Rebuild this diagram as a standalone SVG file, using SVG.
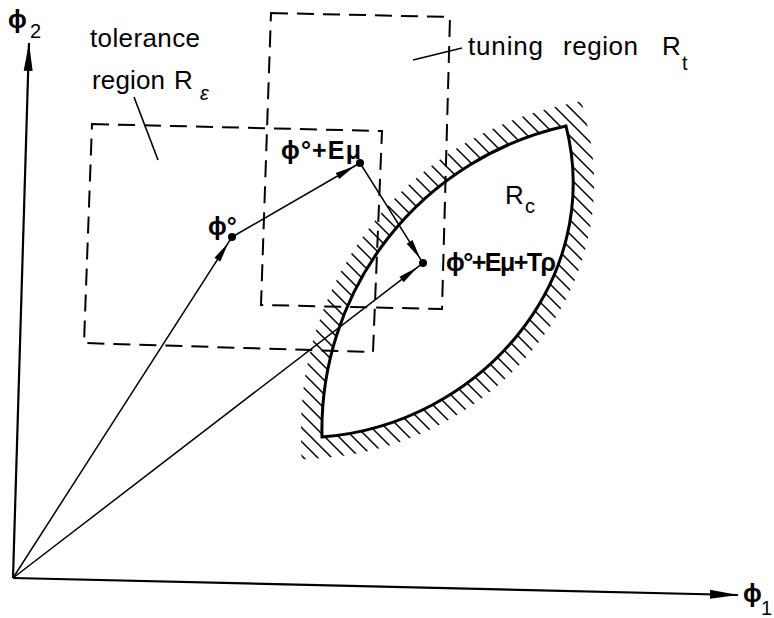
<svg xmlns="http://www.w3.org/2000/svg" width="774" height="618" viewBox="0 0 774 618">
<style>
text{font-family:"Liberation Sans","DejaVu Sans",sans-serif;fill:#000}
.lbl{font-size:26px}
.sym{font-size:25px;font-weight:bold}
.sub{font-size:20px}
.dash{fill:none;stroke:#000;stroke-width:2;stroke-dasharray:17 9}
.vec{fill:none;stroke:#000;stroke-width:1.5;marker-mid:url(#ah)}
.axis{fill:none;stroke:#000;stroke-width:2.2}
.lead{fill:none;stroke:#000;stroke-width:1.6}
.dot{fill:#000}
</style>
<defs>
<marker id="ah" markerUnits="userSpaceOnUse" markerWidth="24" markerHeight="10" viewBox="-22 -5 24 10" refX="0" refY="0" orient="auto"><path d="M0,0 L-20,-3.5 L-20,3.5 Z" fill="#000"/></marker>
<marker id="axh" markerUnits="userSpaceOnUse" markerWidth="34" markerHeight="12" viewBox="-32 -6 34 12" refX="0" refY="0" orient="auto"><path d="M0,0 L-28,-4.5 L-28,4.5 Z" fill="#000"/></marker>
<pattern id="hatch" patternUnits="userSpaceOnUse" width="14" height="14"><path d="M0,0 L14,14 M-2,12 L2,16 M12,-2 L16,2" stroke="#000" stroke-width="1.5"/></pattern>
<path id="lensShape" d="M322,437 A311,311 0 0 1 566,126 C605,280 480,425 322,437 Z"/>
<mask id="band" maskUnits="userSpaceOnUse" x="0" y="0" width="774" height="618">
<use href="#lensShape" fill="#000" stroke="#fff" stroke-width="42" stroke-linejoin="miter" stroke-miterlimit="6"/>
<use href="#lensShape" fill="#000" stroke="none"/>
</mask>
</defs>
<g id="axes">
<path class="axis" d="M13,578 L29,43" marker-end="url(#axh)"/>
<path class="axis" d="M13,578 L738,595" marker-end="url(#axh)"/>
<text class="sym" x="8" y="28">ϕ<tspan class="sub" font-weight="normal" x="30" y="38">2</tspan></text>
<text class="sym" x="743" y="602">ϕ<tspan class="sub" font-weight="normal" x="761" y="615">1</tspan></text>
</g>
<g id="constraint-region">
<rect x="0" y="0" width="774" height="618" fill="url(#hatch)" mask="url(#band)"/>
<use href="#lensShape" fill="none" stroke="#000" stroke-width="3"/>
<text class="lbl" x="505" y="204" font-size="24">R</text>
<text class="sub" x="525" y="213">c</text>
</g>
<g id="tolerance-region">
<path class="dash" d="M92,124 L382,131 L373,352 L84,343 Z"/>
<text class="lbl" x="90" y="47" textLength="110" lengthAdjust="spacing">tolerance</text>
<text class="lbl" x="92" y="89" textLength="73" lengthAdjust="spacing">region</text>
<text class="lbl" x="174" y="89" font-size="24">R</text>
<text class="sub" x="200" y="100" font-style="italic">ε</text>
<path class="lead" d="M134,97 L158,160"/>
</g>
<g id="tuning-region">
<path class="dash" d="M271,13 L450,17 L442,309 L261,305 Z"/>
<text class="lbl" x="468" y="55" textLength="75" lengthAdjust="spacing">tuning</text>
<text class="lbl" x="563" y="55" textLength="75" lengthAdjust="spacing">region</text>
<text class="lbl" x="662" y="55" font-size="24">R</text>
<text class="sub" x="682" y="70" font-size="18">t</text>
<path class="lead" d="M413,60 L462,48"/>
</g>
<g id="connectors">
<path class="vec" d="M13,578 L228.2,242.9 L232,237"/>
<path class="vec" d="M232,237 L354.8,166 L360,163"/>
<path class="vec" d="M360,163 L420.3,258.8 L423,263"/>
<path class="vec" d="M13,578 L417.4,267.3 L423,263"/>
</g>
<g id="phi0">
<circle class="dot" cx="232" cy="237" r="4"/>
<text class="sym" x="208" y="235">ϕ°</text>
</g>
<g id="phi0-Emu">
<circle class="dot" cx="360" cy="163" r="4"/>
<text class="sym" x="281" y="159" textLength="80" lengthAdjust="spacing">ϕ°+Eμ</text>
</g>
<g id="phi0-Emu-Trho">
<circle class="dot" cx="423" cy="263" r="4"/>
<text class="sym" x="446" y="271" textLength="110" lengthAdjust="spacing">ϕ°+Eμ+Tρ</text>
</g>
</svg>
